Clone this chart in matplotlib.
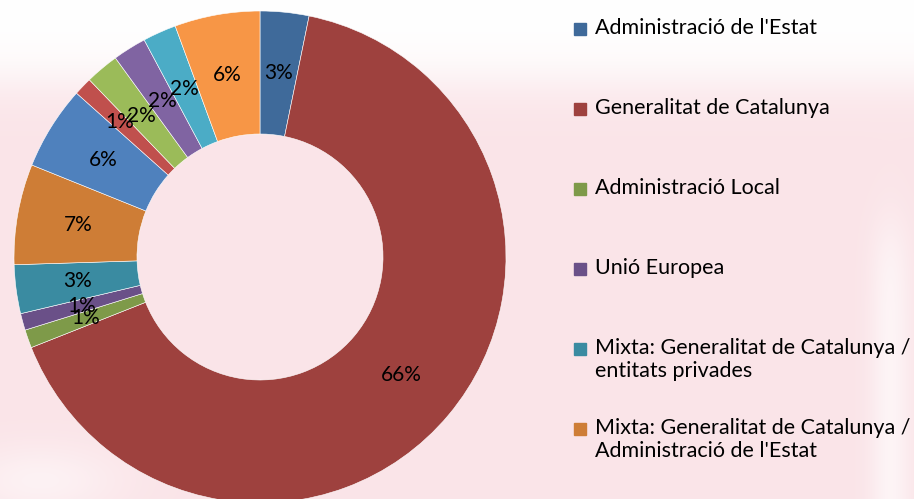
import numpy as np
import matplotlib.pyplot as plt
from matplotlib.patches import Rectangle

plt.rcParams['font.family'] = ['Lato', 'DejaVu Sans']

# slice shares (percent), clockwise from 12 o'clock
valors = [3.2, 65.8, 1.2, 1.1, 3.2, 6.6, 5.5, 1.2, 2.2, 2.2, 2.2, 5.6]
etiquetes = ['3%', '66%', '1%', '1%', '3%', '7%', '6%', '1%', '2%', '2%', '2%', '6%']
colors = ['#3F6A9A', '#9E413E', '#7E9A49', '#6A5088', '#3A8BA1', '#CE7D36',
          '#4F81BD', '#C0504D', '#9BBB59', '#8064A2', '#4BACC6', '#F79646']
# only the first six legend entries fit in the picture
llegenda = ["Administració de l'Estat",
            'Generalitat de Catalunya',
            'Administració Local',
            'Unió Europea',
            'Mixta: Generalitat de Catalunya /\nentitats privades',
            "Mixta: Generalitat de Catalunya /\nAdministració de l'Estat"]

W, H = 914, 499
fig = plt.figure(figsize=(W / 100, H / 100), dpi=100)

# faded pink backdrop
bg = fig.add_axes([0, 0, 1, 1], zorder=0)
yy, xx = np.mgrid[0:H, 0:W]
t = 0.65 / (1 + np.exp(-(yy - 80) / 15.0))
t = t * (1 - 0.6 * np.exp(-((xx - 890) / 20.0) ** 2) / (1 + np.exp(-(yy - 230) / 20.0)))
t = t * (1 - 0.5 * np.exp(-((yy - 480) / 35.0) ** 2 - ((xx - 40) / 80.0) ** 2))
pink = np.array([248, 214, 220]) / 255.0
img = 1 - t[..., None] * (1 - pink)
bg.imshow(img, extent=[0, W, H, 0], aspect='auto')
bg.axis('off')

cx, cy, r = 260, 257, 246
ax = fig.add_axes([(cx - r) / W, (H - cy - r) / H, 2 * r / W, 2 * r / H], zorder=1)
ax.set_facecolor('none')
wedges, _ = ax.pie(valors, colors=colors, startangle=90, counterclock=False,
                   radius=1, wedgeprops=dict(width=0.5, edgecolor='white', linewidth=0.4))
for i, (w, txt) in enumerate(zip(wedges, etiquetes)):
    ang = np.deg2rad((w.theta1 + w.theta2) / 2)
    d = 0.79 if i == 7 else 0.75
    ax.text(d * np.cos(ang), d * np.sin(ang), txt, ha='center', va='center',
            fontsize=15, color='black')
ax.set_xlim(-1, 1)
ax.set_ylim(-1, 1)
ax.set_aspect('equal')
ax.axis('off')

# legend
for i, lab in enumerate(llegenda):
    yc = 29 + 80 * i
    fig.add_artist(Rectangle((574 / W, 1 - (yc + 6) / H), 12 / W, 12 / H,
                             transform=fig.transFigure, color=colors[i], zorder=3))
    fig.text(595 / W, 1 - (yc - 11) / H, lab, ha='left', va='top', fontsize=15.5,
             linespacing=1.2, color='black', zorder=3)

fig.savefig('out.png', dpi=100)
